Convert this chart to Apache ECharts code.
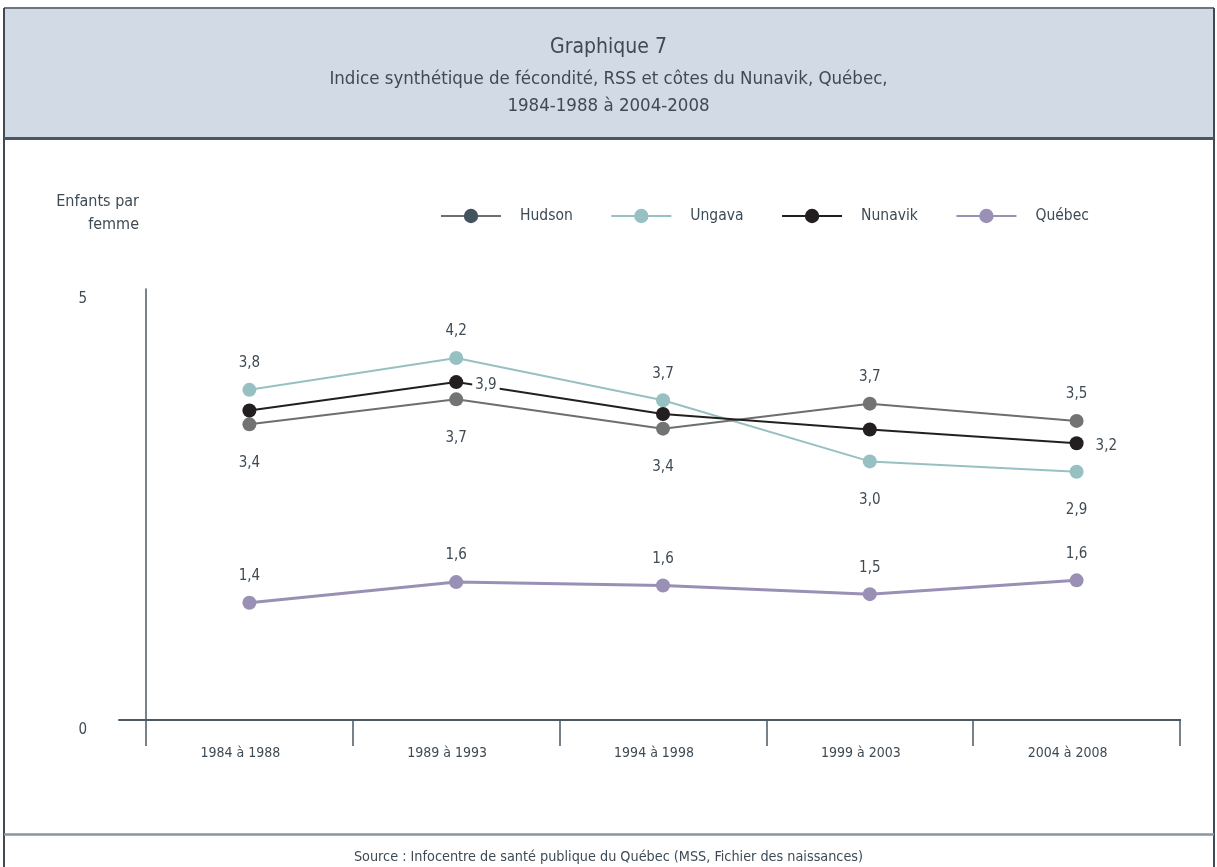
<!DOCTYPE html>
<html>
<head>
<meta charset="utf-8">
<script src="https://cdn.jsdelivr.net/npm/echarts@6/dist/echarts.min.js"></script>
<style>
html,body{margin:0;padding:0;background:#fff;}
#chart{width:1217px;height:867px;}
</style>
</head>
<body>
<div id="chart"></div>
<script>
const categories = ['1984 à 1988', '1989 à 1993', '1994 à 1998', '1999 à 2003', '2004 à 2008'];
const hudson  = [3.43, 3.72, 3.38, 3.67, 3.47];
const ungava  = [3.83, 4.20, 3.71, 3.00, 2.88];
const nunavik = [3.59, 3.92, 3.55, 3.37, 3.21];
const quebec  = [1.36, 1.60, 1.56, 1.46, 1.62];
const yTicks = [0, 5];

const FONT = "'Liberation Sans Narrow', 'DejaVu Sans Condensed', 'Roboto Condensed', Roboto, sans-serif";
const TXT = '#3e4a54';
const fmt = v => v.toFixed(1).replace('.', ',');

function labelled(values, positions) {
  return values.map((v, i) => {
    const p = positions[i];
    if (!p) return { value: v, label: { show: false } };
    const lab = { show: true, position: p };
    if (p === 'top') lab.distance = 12;
    if (p === 'bottom') lab.distance = 24;
    if (p === 'right') { lab.distance = 9; lab.backgroundColor = '#fff'; lab.padding = [1, 3, 1, 3]; lab.offset = [0, 3]; }
    return { value: v, label: lab };
  });
}

const baseLabel = { show: true, color: TXT, fontFamily: FONT, fontSize: 15, formatter: p => fmt(p.value) };

const chart = echarts.init(document.getElementById('chart'), null, { renderer: 'canvas' });
chart.setOption({
  animation: false,
  backgroundColor: '#fff',
  textStyle: { fontFamily: FONT, color: TXT },
  graphic: [
    { type: 'rect', shape: { x: 4, y: 8, width: 1210, height: 130 }, style: { fill: '#d1dae5' }, z: -10 },
    { type: 'line', shape: { x1: 4, y1: 8, x2: 1214, y2: 8 }, style: { stroke: '#6a7680', lineWidth: 2 }, z: -5 },
    { type: 'line', shape: { x1: 4, y1: 8, x2: 4, y2: 867 }, style: { stroke: '#3f4a53', lineWidth: 2 }, z: -5 },
    { type: 'line', shape: { x1: 1214, y1: 8, x2: 1214, y2: 867 }, style: { stroke: '#3f4a53', lineWidth: 2 }, z: -5 },
    { type: 'line', shape: { x1: 4, y1: 138.5, x2: 1214, y2: 138.5 }, style: { stroke: '#4a5660', lineWidth: 3 }, z: -5 },
    { type: 'line', shape: { x1: 4, y1: 834.5, x2: 1214, y2: 834.5 }, style: { stroke: '#8a959e', lineWidth: 2.5 }, z: -5 }
  ],
  title: [
    { text: 'Graphique 7', left: 'center', top: 32, textStyle: { fontFamily: FONT, fontSize: 21, fontWeight: 'normal', color: TXT } },
    { text: 'Indice synthétique de fécondité, RSS et côtes du Nunavik, Québec,', left: 'center', top: 65,
      textStyle: { fontFamily: FONT, fontSize: 18.5, fontWeight: 'normal', color: TXT } },
    { text: '1984-1988 à 2004-2008', left: 'center', top: 92,
      textStyle: { fontFamily: FONT, fontSize: 18.5, fontWeight: 'normal', color: TXT } },
    { text: 'Source : Infocentre de santé publique du Québec (MSS, Fichier des naissances)', left: 'center', top: 845,
      textStyle: { fontFamily: FONT, fontSize: 14.3, fontWeight: 'normal', color: TXT } }
  ],
  legend: {
    left: 440, top: 208, padding: 0,
    itemWidth: 60, itemHeight: 18, itemGap: 37.5,
    textStyle: { fontFamily: FONT, fontSize: 15.5, color: TXT, padding: [0, 0, 0, 14] },
    data: [
      { name: 'Hudson', itemStyle: { color: '#44545f' } },
      { name: 'Ungava' },
      { name: 'Nunavik' },
      { name: 'Québec' }
    ]
  },
  grid: [
    { left: 146, right: 37, top: 289, bottom: 147 },
    { left: 119, right: 37, top: 289, bottom: 147 }
  ],
  xAxis: [
    {
      type: 'category', data: categories, gridIndex: 0, boundaryGap: true,
      axisLine: { show: true, lineStyle: { color: '#4c5861', width: 2 } },
      axisTick: { show: true, interval: 0, length: 26, lineStyle: { color: '#4c5861', width: 1.5 } },
      axisLabel: { interval: 0, margin: 26, fontSize: 14, color: TXT, fontFamily: FONT, padding: [0, 18, 0, 0] }
    },
    {
      type: 'category', data: categories, gridIndex: 1,
      axisLine: { show: true, lineStyle: { color: '#4c5861', width: 2 } },
      axisTick: { show: false }, axisLabel: { show: false }
    }
  ],
  yAxis: [
    {
      type: 'value', gridIndex: 0, min: yTicks[0], max: yTicks[1], interval: 5,
      name: 'Enfants par\nfemme', nameLocation: 'end', nameGap: 53,
      nameTextStyle: { fontFamily: FONT, fontSize: 16, color: TXT, align: 'right', verticalAlign: 'bottom', lineHeight: 23, padding: [0, 7, 0, 0] },
      axisLine: { show: true, lineStyle: { color: '#4c5861', width: 1.5 } },
      axisTick: { show: false },
      splitLine: { show: false },
      axisLabel: { margin: 59, fontSize: 15, color: TXT, fontFamily: FONT, verticalAlign: 'top', padding: [3, 0, 0, 0] }
    },
    { type: 'value', gridIndex: 1, min: 0, max: 5, show: false }
  ],
  series: [
    {
      name: 'Hudson', type: 'line', data: labelled(hudson, ['bottom', 'bottom', 'bottom', 'top', 'top']),
      symbol: 'circle', symbolSize: 14, color: '#737373',
      lineStyle: { color: '#6d6e70', width: 2 }, itemStyle: { color: '#737373' },
      label: baseLabel, z: 3
    },
    {
      name: 'Ungava', type: 'line', data: labelled(ungava, ['top', 'top', 'top', 'bottom', 'bottom']),
      symbol: 'circle', symbolSize: 14, color: '#97c0c3',
      lineStyle: { color: '#97c0c3', width: 2 }, itemStyle: { color: '#97c0c3' },
      label: baseLabel, z: 2
    },
    {
      name: 'Nunavik', type: 'line', data: labelled(nunavik, [null, 'right', null, null, 'right']),
      symbol: 'circle', symbolSize: 14, color: '#231f20',
      lineStyle: { color: '#231f20', width: 2 }, itemStyle: { color: '#231f20' },
      label: baseLabel, z: 4
    },
    {
      name: 'Québec', type: 'line', data: labelled(quebec, ['top', 'top', 'top', 'top', 'top']),
      symbol: 'circle', symbolSize: 14, color: '#9a8fb5',
      lineStyle: { color: '#9a8fb5', width: 3 }, itemStyle: { color: '#9a8fb5' },
      label: baseLabel, z: 2
    }
  ]
});
</script>
</body>
</html>
